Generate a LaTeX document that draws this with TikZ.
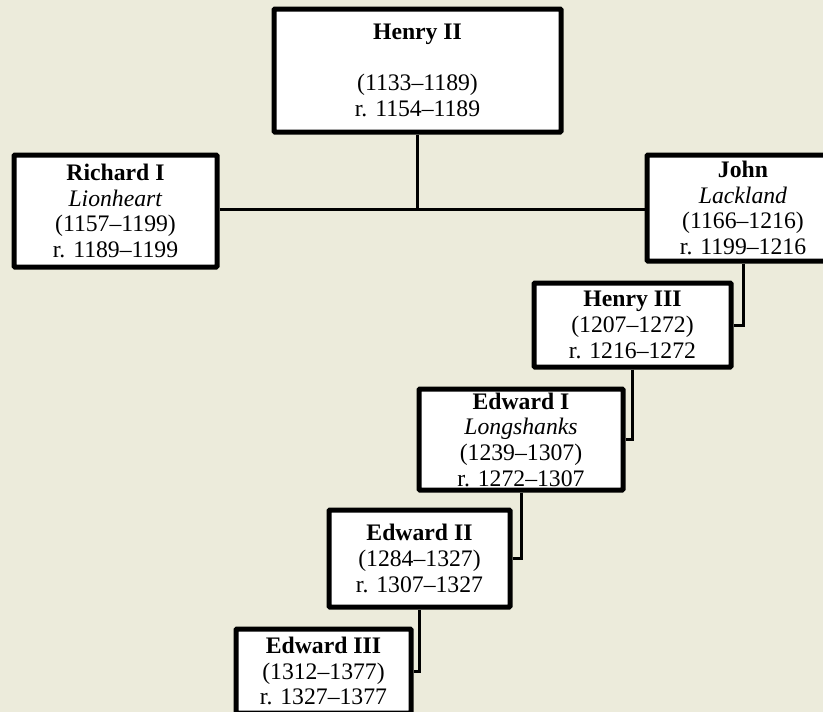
\documentclass[tikz,border=0pt]{standalone}
\usepackage{fontspec}
\setmainfont{Liberation Serif}
\definecolor{bgbeige}{RGB}{236,235,219}
\tikzset{
  person/.style={draw=black, fill=white, line width=5pt, rounded corners=1pt,
    inner sep=0pt, align=center, text=black,
    font=\fontsize{23.7}{25.7}\selectfont},
  link/.style={draw=black, line width=3pt}
}
\begin{document}
\begin{tikzpicture}[x=1pt,y=-1pt]
\clip (0,0) rectangle (823,712);
\fill[bgbeige] (0,0) rectangle (823,712);
\node[person, minimum width=287pt, minimum height=123pt] (henry2) at (417.5,70.5)
  {\textbf{Henry II}\\ \mbox{}\\ (1133–1189)\\ r. 1154–1189};
\node[person, minimum width=203pt, minimum height=112pt] (richard) at (115.5,211)
  {\textbf{Richard I}\\ \textit{Lionheart}\\ (1157–1199)\\ r. 1189–1199};
\node[person, minimum width=192pt, minimum height=106pt] (john) at (743,208)
  {\textbf{John}\\ \textit{Lackland}\\ (1166–1216)\\ r. 1199–1216};
\node[person, minimum width=197pt, minimum height=84pt] (henry3) at (632.5,325)
  {\textbf{Henry III}\\ (1207–1272)\\ r. 1216–1272};
\node[person, minimum width=204pt, minimum height=101pt] (edward1) at (521,439.5)
  {\textbf{Edward I}\\ \textit{Longshanks}\\ (1239–1307)\\ r. 1272–1307};
\node[person, minimum width=181pt, minimum height=97pt] (edward2) at (419.5,558.5)
  {\textbf{Edward II}\\ (1284–1327)\\ r. 1307–1327};
\node[person, minimum width=175pt, minimum height=84pt] (edward3) at (323.5,671)
  {\textbf{Edward III}\\ (1312–1377)\\ r. 1327–1377};
\coordinate (fork) at (417.5,209.5);
\draw[link] (henry2.south) -- (fork);
\draw[link] (richard.east |- fork) -- (john.west |- fork);
\draw[link] (john.south) |- (henry3.east);
\draw[link] (henry3.south) |- (edward1.east);
\draw[link] (edward1.south) |- (edward2.east);
\draw[link] (edward2.south) |- (edward3.east);
\end{tikzpicture}
\end{document}
